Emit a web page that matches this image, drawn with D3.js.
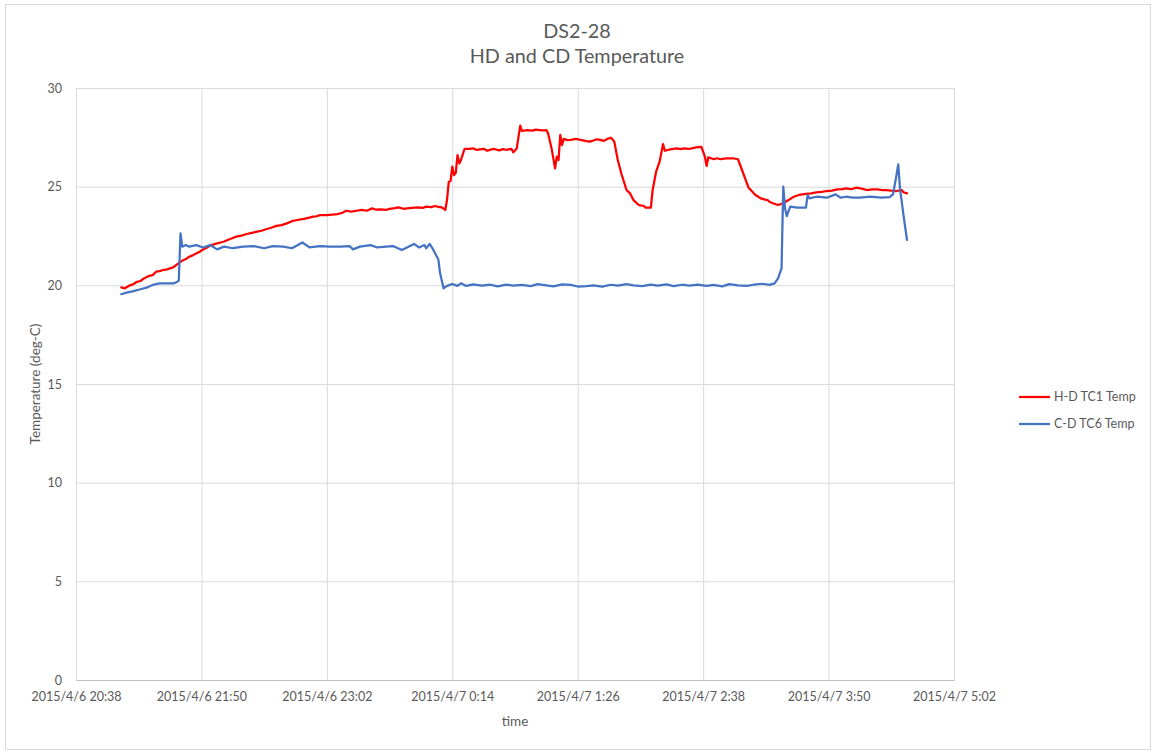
<!DOCTYPE html>
<html>
<head>
<meta charset="utf-8">
<script src="https://cdn.jsdelivr.net/npm/d3@7"></script>
<style>
  body { margin: 0; background: #fff; }
  text { font-family: Lato, "Open Sans", sans-serif; fill: #595959; }
</style>
</head>
<body>
<svg width="1157" height="756"></svg>
<script>
// time ticks on the x axis (every 72 minutes)
var xTickLabels = ["2015/4/6 20:38", "2015/4/6 21:50", "2015/4/6 23:02", "2015/4/7 0:14",
                   "2015/4/7 1:26", "2015/4/7 2:38", "2015/4/7 3:50", "2015/4/7 5:02"];
var yTicks = [0, 5, 10, 15, 20, 25, 30];

// samples: minutes after 2015/4/6 20:38, temperature in deg-C
var hdMinutes = [26, 28, 31, 33, 35, 37, 39, 42, 44, 46, 48, 50, 52, 54, 56, 58, 61, 63, 65, 67, 69, 71, 73, 75, 77,
  80, 83, 85, 87, 90, 92, 95, 98, 101, 104, 107, 109, 112, 115, 118, 121, 124, 127, 130, 132, 134, 136, 138, 140,
  144, 147, 150, 153, 155, 158, 161, 164, 167, 170, 172, 175, 178, 180, 183, 185, 188, 190, 193, 196, 199, 201,
  204, 206, 208, 210, 212, 213, 214, 215, 216, 217, 218, 219, 220, 221, 223, 226, 228, 230, 232, 234, 236, 238,
  240, 243, 245, 247, 250, 251, 253, 255, 256, 259, 262, 264, 266, 268, 270, 271, 273, 275, 276, 277, 278, 279,
  280, 282, 284, 287, 289, 291, 293, 295, 297, 299, 301, 303, 305, 307, 308, 309, 311, 313, 316, 318, 320, 323,
  326, 327, 330, 331, 333, 335, 337, 338, 341, 343, 345, 347, 349, 352, 354, 356, 359, 361, 362, 363, 366, 368,
  370, 372, 374, 377, 380, 383, 386, 390, 393, 395, 397, 398, 400, 403, 406, 409, 412, 415, 419, 422, 425, 428,
  431, 434, 437, 440, 442, 445, 448, 451, 454, 457, 460, 463, 465, 468, 471, 474, 475, 477];
var hdTemps = [19.90, 19.85, 20.00, 20.06, 20.18, 20.22, 20.35, 20.48, 20.52, 20.69, 20.72, 20.78, 20.80, 20.86,
  20.92, 21.06, 21.25, 21.33, 21.45, 21.52, 21.62, 21.70, 21.82, 21.90, 22.01, 22.10, 22.17, 22.22, 22.30, 22.40,
  22.47, 22.52, 22.60, 22.66, 22.72, 22.78, 22.84, 22.92, 23.01, 23.05, 23.14, 23.25, 23.31, 23.36, 23.39, 23.43,
  23.48, 23.50, 23.56, 23.56, 23.58, 23.61, 23.68, 23.78, 23.74, 23.78, 23.82, 23.78, 23.90, 23.84, 23.85, 23.82,
  23.88, 23.91, 23.95, 23.88, 23.90, 23.93, 23.95, 23.92, 23.99, 23.96, 24.02, 23.98, 23.95, 23.82, 24.35, 25.25,
  25.29, 26.01, 25.59, 25.70, 26.60, 26.18, 26.35, 26.91, 26.91, 26.94, 26.86, 26.89, 26.92, 26.82, 26.88, 26.91,
  26.84, 26.90, 26.87, 26.91, 26.74, 26.94, 28.09, 27.82, 27.87, 27.84, 27.89, 27.87, 27.85, 27.87, 27.70, 26.94,
  25.93, 26.52, 26.35, 27.62, 27.11, 27.42, 27.36, 27.37, 27.42, 27.38, 27.35, 27.31, 27.28, 27.34, 27.40, 27.37,
  27.32, 27.42, 27.48, 27.40, 27.28, 26.35, 25.68, 24.83, 24.66, 24.32, 24.07, 24.02, 23.94, 23.94, 24.83, 25.76,
  26.27, 27.16, 26.82, 26.89, 26.92, 26.94, 26.90, 26.94, 26.91, 26.95, 26.99, 27.02, 26.52, 26.05, 26.49, 26.39,
  26.44, 26.39, 26.42, 26.44, 26.44, 26.39, 25.68, 24.96, 24.58, 24.41, 24.36, 24.32, 24.24, 24.16, 24.07, 24.16,
  24.32, 24.49, 24.58, 24.63, 24.66, 24.71, 24.74, 24.78, 24.80, 24.86, 24.88, 24.91, 24.87, 24.95, 24.90, 24.83,
  24.86, 24.86, 24.82, 24.83, 24.80, 24.78, 24.83, 24.72, 24.66];

var cdMinutes = [26, 29, 33, 37, 41, 44, 48, 52, 56, 58, 59, 60, 61, 63, 65, 69, 73, 77, 81, 85, 90, 96, 102, 108,
  113, 119, 124, 130, 134, 140, 146, 152, 157, 159, 163, 169, 173, 178, 182, 187, 190, 194, 197, 200, 201, 203,
  205, 208, 209, 211, 213, 216, 219, 221, 224, 228, 233, 238, 242, 247, 251, 256, 261, 265, 270, 274, 279, 284,
  288, 293, 297, 302, 307, 311, 316, 320, 325, 330, 334, 339, 343, 348, 352, 357, 362, 366, 371, 375, 380, 385,
  389, 394, 398, 401, 403, 405, 406, 407, 408, 410, 414, 419, 420, 421, 425, 431, 436, 439, 442, 446, 450, 456,
  462, 467, 469, 471, 472, 473, 475, 477];
var cdTemps = [19.55, 19.63, 19.71, 19.80, 19.90, 20.02, 20.10, 20.10, 20.10, 20.17, 20.24, 22.63, 21.96, 22.04,
  21.96, 22.04, 21.92, 22.04, 21.82, 21.96, 21.88, 21.96, 21.99, 21.88, 21.99, 21.96, 21.88, 22.17, 21.92, 21.99,
  21.96, 21.96, 21.99, 21.82, 21.96, 22.04, 21.92, 21.96, 21.99, 21.79, 21.92, 22.10, 21.92, 22.04, 21.88, 22.10,
  21.82, 21.31, 20.61, 19.85, 19.97, 20.07, 19.97, 20.10, 19.97, 20.05, 19.98, 20.03, 19.95, 20.04, 19.98, 20.02,
  19.96, 20.06, 20.00, 19.95, 20.05, 20.02, 19.94, 19.96, 20.00, 19.93, 20.03, 19.98, 20.06, 20.00, 19.96, 20.04,
  19.98, 20.05, 19.96, 20.03, 19.99, 20.04, 19.97, 20.02, 19.95, 20.06, 20.00, 19.97, 20.03, 20.08, 20.02, 20.10,
  20.35, 20.86, 25.00, 23.90, 23.51, 23.99, 23.94, 23.94, 24.58, 24.41, 24.49, 24.44, 24.61, 24.44, 24.49, 24.44,
  24.44, 24.49, 24.44, 24.47, 24.61, 25.59, 26.13, 24.91, 23.56, 22.30];

var seriesNames = ["H-D TC1 Temp", "C-D TC6 Temp"];
var seriesColors = ["#ff0000", "#4472c4"];

var width = 1157, height = 756;
var margin = {top: 88, right: 203, bottom: 76, left: 76};
var parseTime = d3.timeParse("%Y/%-m/%-d %H:%M");
var formatTime = d3.timeFormat("%Y/%-m/%-d %-H:%M");
var t0 = parseTime(xTickLabels[0]);
var xTicks = xTickLabels.map(parseTime);

var x = d3.scaleTime()
    .domain([xTicks[0], xTicks[xTicks.length - 1]])
    .range([margin.left, width - margin.right]);
var y = d3.scaleLinear()
    .domain([0, 30])
    .range([height - margin.bottom, margin.top]);

var series = [
  {name: seriesNames[0], color: seriesColors[0],
   values: hdMinutes.map((m, i) => ({date: d3.timeMinute.offset(t0, m), value: hdTemps[i]}))},
  {name: seriesNames[1], color: seriesColors[1],
   values: cdMinutes.map((m, i) => ({date: d3.timeMinute.offset(t0, m), value: cdTemps[i]}))}
];

var line = d3.line()
    .x(d => x(d.date))
    .y(d => y(d.value));

(function chart() {
  var svg = d3.select("svg");

  svg.append("rect")
      .attr("x", 5.5).attr("y", 4.5)
      .attr("width", 1145).attr("height", 745)
      .attr("fill", "#fff")
      .attr("stroke", "#d9d9d9");

  // gridlines
  svg.append("g")
      .attr("transform", `translate(0,${height - margin.bottom})`)
      .call(d3.axisBottom(x).tickValues(xTicks).tickSize(-(height - margin.top - margin.bottom)).tickFormat(""))
      .call(g => g.select(".domain").remove())
      .call(g => g.selectAll(".tick line").attr("stroke", "#d9d9d9"));
  svg.append("g")
      .attr("transform", `translate(${margin.left},0)`)
      .call(d3.axisLeft(y).tickValues(yTicks).tickSize(-(width - margin.left - margin.right)).tickFormat(""))
      .call(g => g.select(".domain").remove())
      .call(g => g.selectAll(".tick line").attr("stroke", "#d9d9d9"));

  // x axis
  svg.append("g")
      .attr("transform", `translate(0,${height - margin.bottom})`)
      .call(d3.axisBottom(x).tickValues(xTicks).tickSize(0).tickPadding(12).tickFormat(formatTime))
      .call(g => g.select(".domain").attr("stroke", "#bfbfbf"))
      .call(g => g.selectAll("text").attr("font-size", 12.5).attr("fill", "#595959")
          .attr("font-family", "Lato, 'Open Sans', sans-serif"));

  // y axis
  svg.append("g")
      .attr("transform", `translate(${margin.left},0)`)
      .call(d3.axisLeft(y).tickValues(yTicks).tickSize(0).tickPadding(14))
      .call(g => g.select(".domain").remove())
      .call(g => g.selectAll("text").attr("font-size", 12.5).attr("fill", "#595959")
          .attr("font-family", "Lato, 'Open Sans', sans-serif"));

  // series
  svg.append("g")
    .selectAll("path")
    .data(series)
    .join("path")
      .attr("fill", "none")
      .attr("stroke", d => d.color)
      .attr("stroke-width", 2.25)
      .attr("stroke-linejoin", "round")
      .attr("stroke-linecap", "round")
      .attr("d", d => line(d.values));

  // titles
  svg.append("text")
      .attr("x", 577).attr("y", 38)
      .attr("text-anchor", "middle").attr("font-size", 19.8)
      .text("DS2-28");
  svg.append("text")
      .attr("x", 577).attr("y", 63)
      .attr("text-anchor", "middle").attr("font-size", 19.8)
      .text("HD and CD Temperature");
  svg.append("text")
      .attr("x", (margin.left + width - margin.right) / 2).attr("y", 726)
      .attr("text-anchor", "middle").attr("font-size", 13.5)
      .text("time");
  svg.append("text")
      .attr("transform", `translate(40,${(margin.top + height - margin.bottom) / 2}) rotate(-90)`)
      .attr("text-anchor", "middle").attr("font-size", 13.5)
      .text("Temperature (deg-C)");

  // legend
  var legend = svg.append("g")
    .selectAll("g")
    .data(series)
    .join("g")
      .attr("transform", (d, i) => `translate(1019,${397 + i * 27})`);
  legend.append("line")
      .attr("x1", 0).attr("x2", 31)
      .attr("stroke", d => d.color)
      .attr("stroke-width", 2.25);
  legend.append("text")
      .attr("x", 35).attr("dy", "0.35em")
      .attr("font-size", 12.5)
      .text(d => d.name);

  return svg.node();
})();
</script>
</body>
</html>
